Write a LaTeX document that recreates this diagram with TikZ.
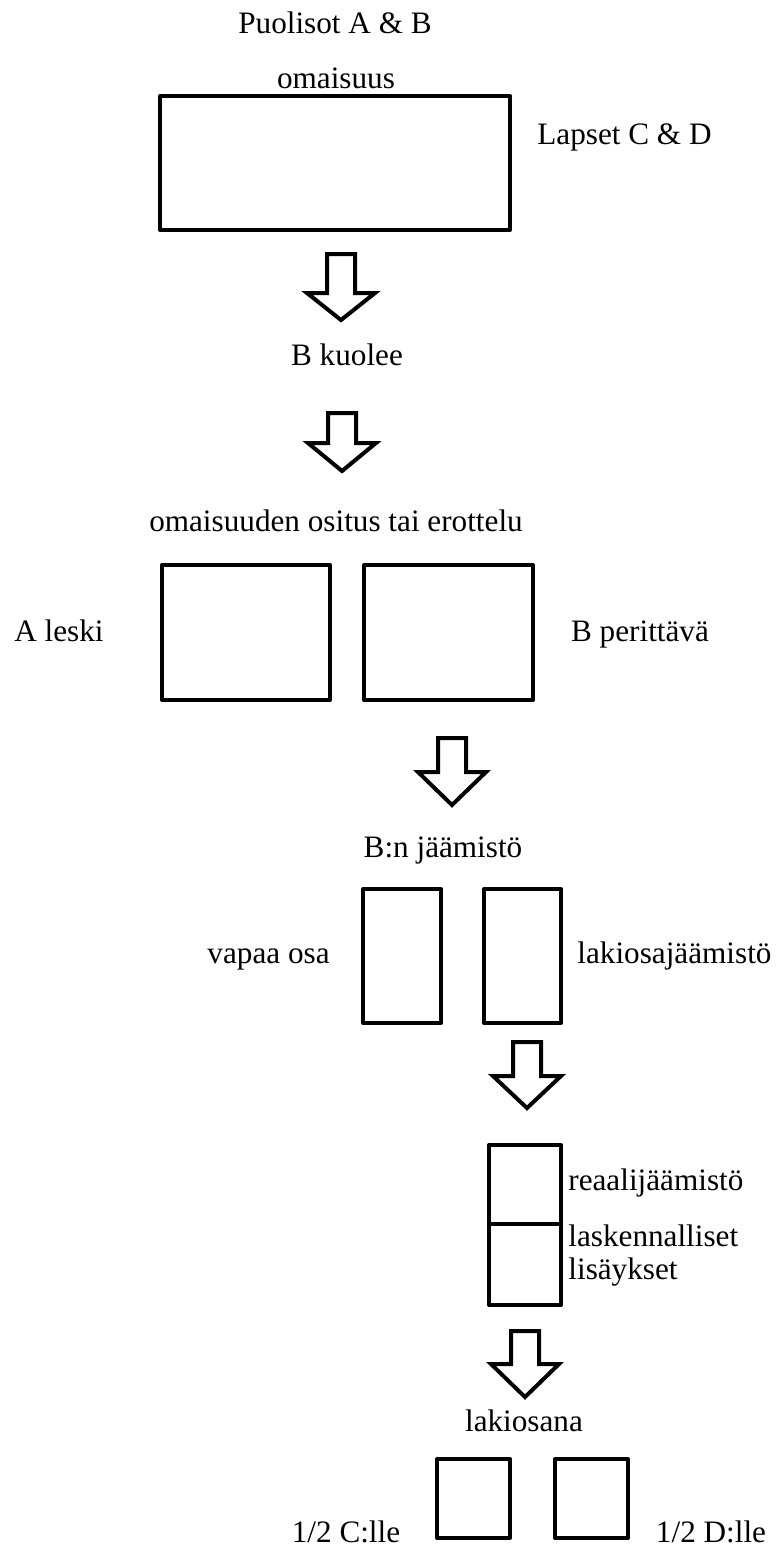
\documentclass[tikz,border=0pt]{standalone}
\usepackage{fontspec}
\setmainfont{Liberation Serif}
\begin{document}
\begin{tikzpicture}[x=0.5pt,y=-0.5pt,
  box/.style={draw=black, line width=2pt, line join=round, inner sep=0pt, fill=white},
  label/.style={inner sep=0pt, anchor=base, font=\fontsize{15.6pt}{18pt}\selectfont},
  blockarrow/.style={draw=black, line width=2pt, line join=miter, fill=white}]
\useasboundingbox (0,0) rectangle (781,1549);

% down-pointing block arrow: centre x, shaft top, head base, tip
\newcommand\downblock[4]{%
  \draw[blockarrow] (#1-14,#2) -- (#1+14,#2) -- (#1+14,#3) -- (#1+34,#3)
    -- (#1,#4) -- (#1-34,#3) -- (#1-14,#3) -- cycle;}

% spouses' joint property
\node[label] (spouses) at (335,33) {Puolisot A \& B};
\node[label] (property) at (336,88) {omaisuus};
\node[box, minimum width=175pt, minimum height=67pt] (joint) at (335,163) {};
\node[label, anchor=base west] (children) at (537,144) {Lapset C \& D};

\downblock{341}{254}{293}{320}
\node[label] (death) at (347,365) {B kuolee};
\downblock{342}{413}{443}{471}

% division of property
\node[label] (division) at (336,531) {omaisuuden ositus tai erottelu};
\node[box, minimum width=84pt, minimum height=67.5pt] (widow) at (246,632.5) {};
\node[box, minimum width=84.5pt, minimum height=67.5pt] (deceased) at (448.5,632.5) {};
\node[label] (widowlbl) at (59,641) {A leski};
\node[label] (deceasedlbl) at (640,641) {B perittävä};

\downblock{452}{738}{772}{805}

% estate of B
\node[label] (estate) at (443,857) {B:n jäämistö};
\node[box, minimum width=39pt, minimum height=67pt] (free) at (402,956) {};
\node[box, minimum width=38.5pt, minimum height=67pt] (reserved) at (522.5,956) {};
\node[label, anchor=base east] (freelbl) at (330,963) {vapaa osa};
\node[label, anchor=base west] (reservedlbl) at (577,963) {lakiosajäämistö};

\downblock{527}{1042}{1076}{1108}

% real estate plus notional additions
\node[box, minimum width=36pt, minimum height=40.5pt] (additions) at (525,1264.5) {};
\node[box, minimum width=36pt, minimum height=39.5pt] (real) at (525,1184.5) {};
\node[label, anchor=base west] (reallbl) at (568,1190) {reaalijäämistö};
\node[label, anchor=base west] (addlbl1) at (568,1246) {laskennalliset};
\node[label, anchor=base west] (addlbl2) at (568,1279) {lisäykset};

\downblock{525}{1331}{1364}{1397}

% compulsory shares
\node[label] (share) at (524,1431) {lakiosana};
\node[box, minimum width=36.5pt, minimum height=39.5pt] (shareC) at (473.5,1498.5) {};
\node[box, minimum width=36.5pt, minimum height=39.5pt] (shareD) at (591.5,1498.5) {};
\node[label] (shareClbl) at (346,1542) {1/2 C:lle};
\node[label] (shareDlbl) at (711,1542) {1/2 D:lle};
\end{tikzpicture}
\end{document}
